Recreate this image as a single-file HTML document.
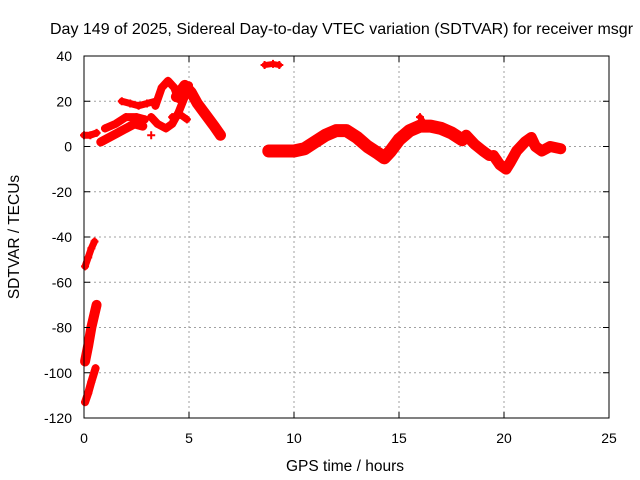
<!DOCTYPE html>
<html><head><meta charset="utf-8"><style>
html,body{margin:0;padding:0;background:#fff;}
svg{display:block;font-family:"Liberation Sans",sans-serif;}
</style></head><body>
<svg id="chart" width="640" height="480" viewBox="0 0 640 480">
<text x="50" y="34" font-size="16" fill="#000">Day 149 of 2025, Sidereal Day-to-day VTEC variation (SDTVAR) for receiver msgr</text>
<g id="grid"></g>
<g id="marks"></g>
<rect x="84" y="56" width="525" height="362" fill="none" stroke="#000" stroke-width="1"/>
<g id="axes"></g>
<text x="345" y="471" font-size="15.5" text-anchor="middle">GPS time / hours</text>
<text transform="translate(19,237) rotate(-90)" font-size="15.5" text-anchor="middle">SDTVAR / TECUs</text>
</svg>
<script>
const xTicks = [0,5,10,15,20,25];
const yTicks = [40,20,0,-20,-40,-60,-80,-100,-120];
// tracks: arrays of [hour, SDTVAR]
const track1 = [[0.05,-113],[0.2,-109],[0.35,-104],[0.55,-98]];
const track2 = [[0.05,-95],[0.2,-88],[0.35,-80],[0.5,-74],[0.6,-70]];
const track3 = [[0.05,-53],[0.2,-49],[0.35,-45],[0.5,-42]];
const track4 = [[0.0,5],[0.3,5],[0.6,6]];
const track5 = [[0.8,2],[1.2,4],[1.6,6],[2.0,8],[2.4,10],[2.8,9]];
const track6 = [[1.0,8],[1.5,10],[2.0,13],[2.5,13],[2.9,12]];
const track7 = [[1.8,20],[2.2,19],[2.6,18],[3.0,19],[3.4,20]];
const track8 = [[3.2,13],[3.5,10],[3.9,8],[4.2,10],[4.5,15],[4.8,22],[5.0,27]];
const track9 = [[3.4,18],[3.7,26],[4.0,29],[4.3,26],[4.5,21]];
const track10 = [[4.2,13],[4.6,14],[4.9,12]];
const track11 = [[4.4,22],[4.8,27],[5.1,24],[5.4,19],[5.8,14],[6.2,9],[6.5,5]];
const track12 = [[3.2,5]];
const track13 = [[8.6,36],[9.0,36.5],[9.3,36]];
const track14 = [[8.8,-2],[9.5,-2],[10.0,-2],[10.5,-1],[11.0,2],[11.5,5],[12.0,7],[12.5,7],[13.0,4],[13.5,0],[14.0,-3],[14.3,-5],[14.6,-2],[15.0,3],[15.5,7],[16.0,9],[16.5,9],[17.0,8],[17.5,6],[18.0,3]];
const track15 = [[16.0,13],[16.2,10]];
const track16 = [[18.2,5],[18.6,1],[19.0,-2],[19.3,-4]];
const track17 = [[19.5,-4],[19.8,-8],[20.1,-10],[20.3,-7],[20.6,-2],[21.0,2],[21.3,4],[21.5,0],[21.8,-2],[22.2,0],[22.7,-1]];
const tracks = [track1,track2,track3,track4,track5,track6,track7,track8,track9,track10,track11,track12,track13,track14,track15,track16,track17];
const widths = [8,10,7,7,9,8,7,8,8,7,11,5,6,13,6,11,11];

const X0=84, X1=609, Y0=418, Y1=56;
function sx(h){return X0+(h-0)/(25-0)*(X1-X0);}
function sy(v){return Y0-(v+120)/(160)*(Y0-Y1);}
const NS="http://www.w3.org/2000/svg";
const grid=document.getElementById('grid'), axes=document.getElementById('axes'), marks=document.getElementById('marks');
xTicks.forEach(t=>{
  const x=sx(t);
  if(t>0&&t<25){const l=document.createElementNS(NS,'line');
    l.setAttribute('x1',x);l.setAttribute('x2',x);l.setAttribute('y1',Y1);l.setAttribute('y2',Y0);
    l.setAttribute('stroke','#a0a0a0');l.setAttribute('stroke-dasharray','2,3');
    
    
    grid.appendChild(l);}
  const tk=document.createElementNS(NS,'path');
  tk.setAttribute('d',`M${x},${Y0}v-6M${x},${Y1}v6`);tk.setAttribute('stroke','#000');
  
  
  axes.appendChild(tk);
  const tx=document.createElementNS(NS,'text');
  tx.setAttribute('x',x);tx.setAttribute('y',443);tx.setAttribute('font-size','14');tx.setAttribute('text-anchor','middle');
  tx.textContent=t;
  
  
  axes.appendChild(tx);
});
yTicks.forEach(t=>{
  const y=sy(t);
  if(t>-120&&t<40){const l=document.createElementNS(NS,'line');
    l.setAttribute('x1',X0);l.setAttribute('x2',X1);l.setAttribute('y1',y);l.setAttribute('y2',y);
    l.setAttribute('stroke','#a0a0a0');l.setAttribute('stroke-dasharray','2,3');
    
    
    grid.appendChild(l);}
  const tk=document.createElementNS(NS,'path');
  tk.setAttribute('d',`M${X0},${y}h6M${X1},${y}h-6`);tk.setAttribute('stroke','#000');
  
  
  axes.appendChild(tk);
  const tx=document.createElementNS(NS,'text');
  tx.setAttribute('x',72);tx.setAttribute('y',y+5);tx.setAttribute('font-size','14');tx.setAttribute('text-anchor','end');
  tx.textContent=t;
  
  
  axes.appendChild(tx);
});
tracks.forEach((tr,i)=>{
  const g=document.createElementNS(NS,'g');
  
  
  const w=widths[i];
  if(tr.length>1){
    const p=document.createElementNS(NS,'polyline');
    p.setAttribute('points',tr.map(d=>sx(d[0])+','+sy(d[1])).join(' '));
    p.setAttribute('fill','none');p.setAttribute('stroke','#ff0000');p.setAttribute('stroke-width',w);
    p.setAttribute('stroke-linejoin','round');p.setAttribute('stroke-linecap','round');
    
    
    g.appendChild(p);
  }
  tr.forEach(d=>{
    const m=document.createElementNS(NS,'path');
    const x=sx(d[0]),y=sy(d[1]);
    m.setAttribute('d',`M${x-4},${y}h8M${x},${y-4}v8`);
    m.setAttribute('stroke','#ff0000');m.setAttribute('stroke-width','2');
    
    
    g.appendChild(m);
  });
  marks.appendChild(g);
});
</script>
</body></html>
